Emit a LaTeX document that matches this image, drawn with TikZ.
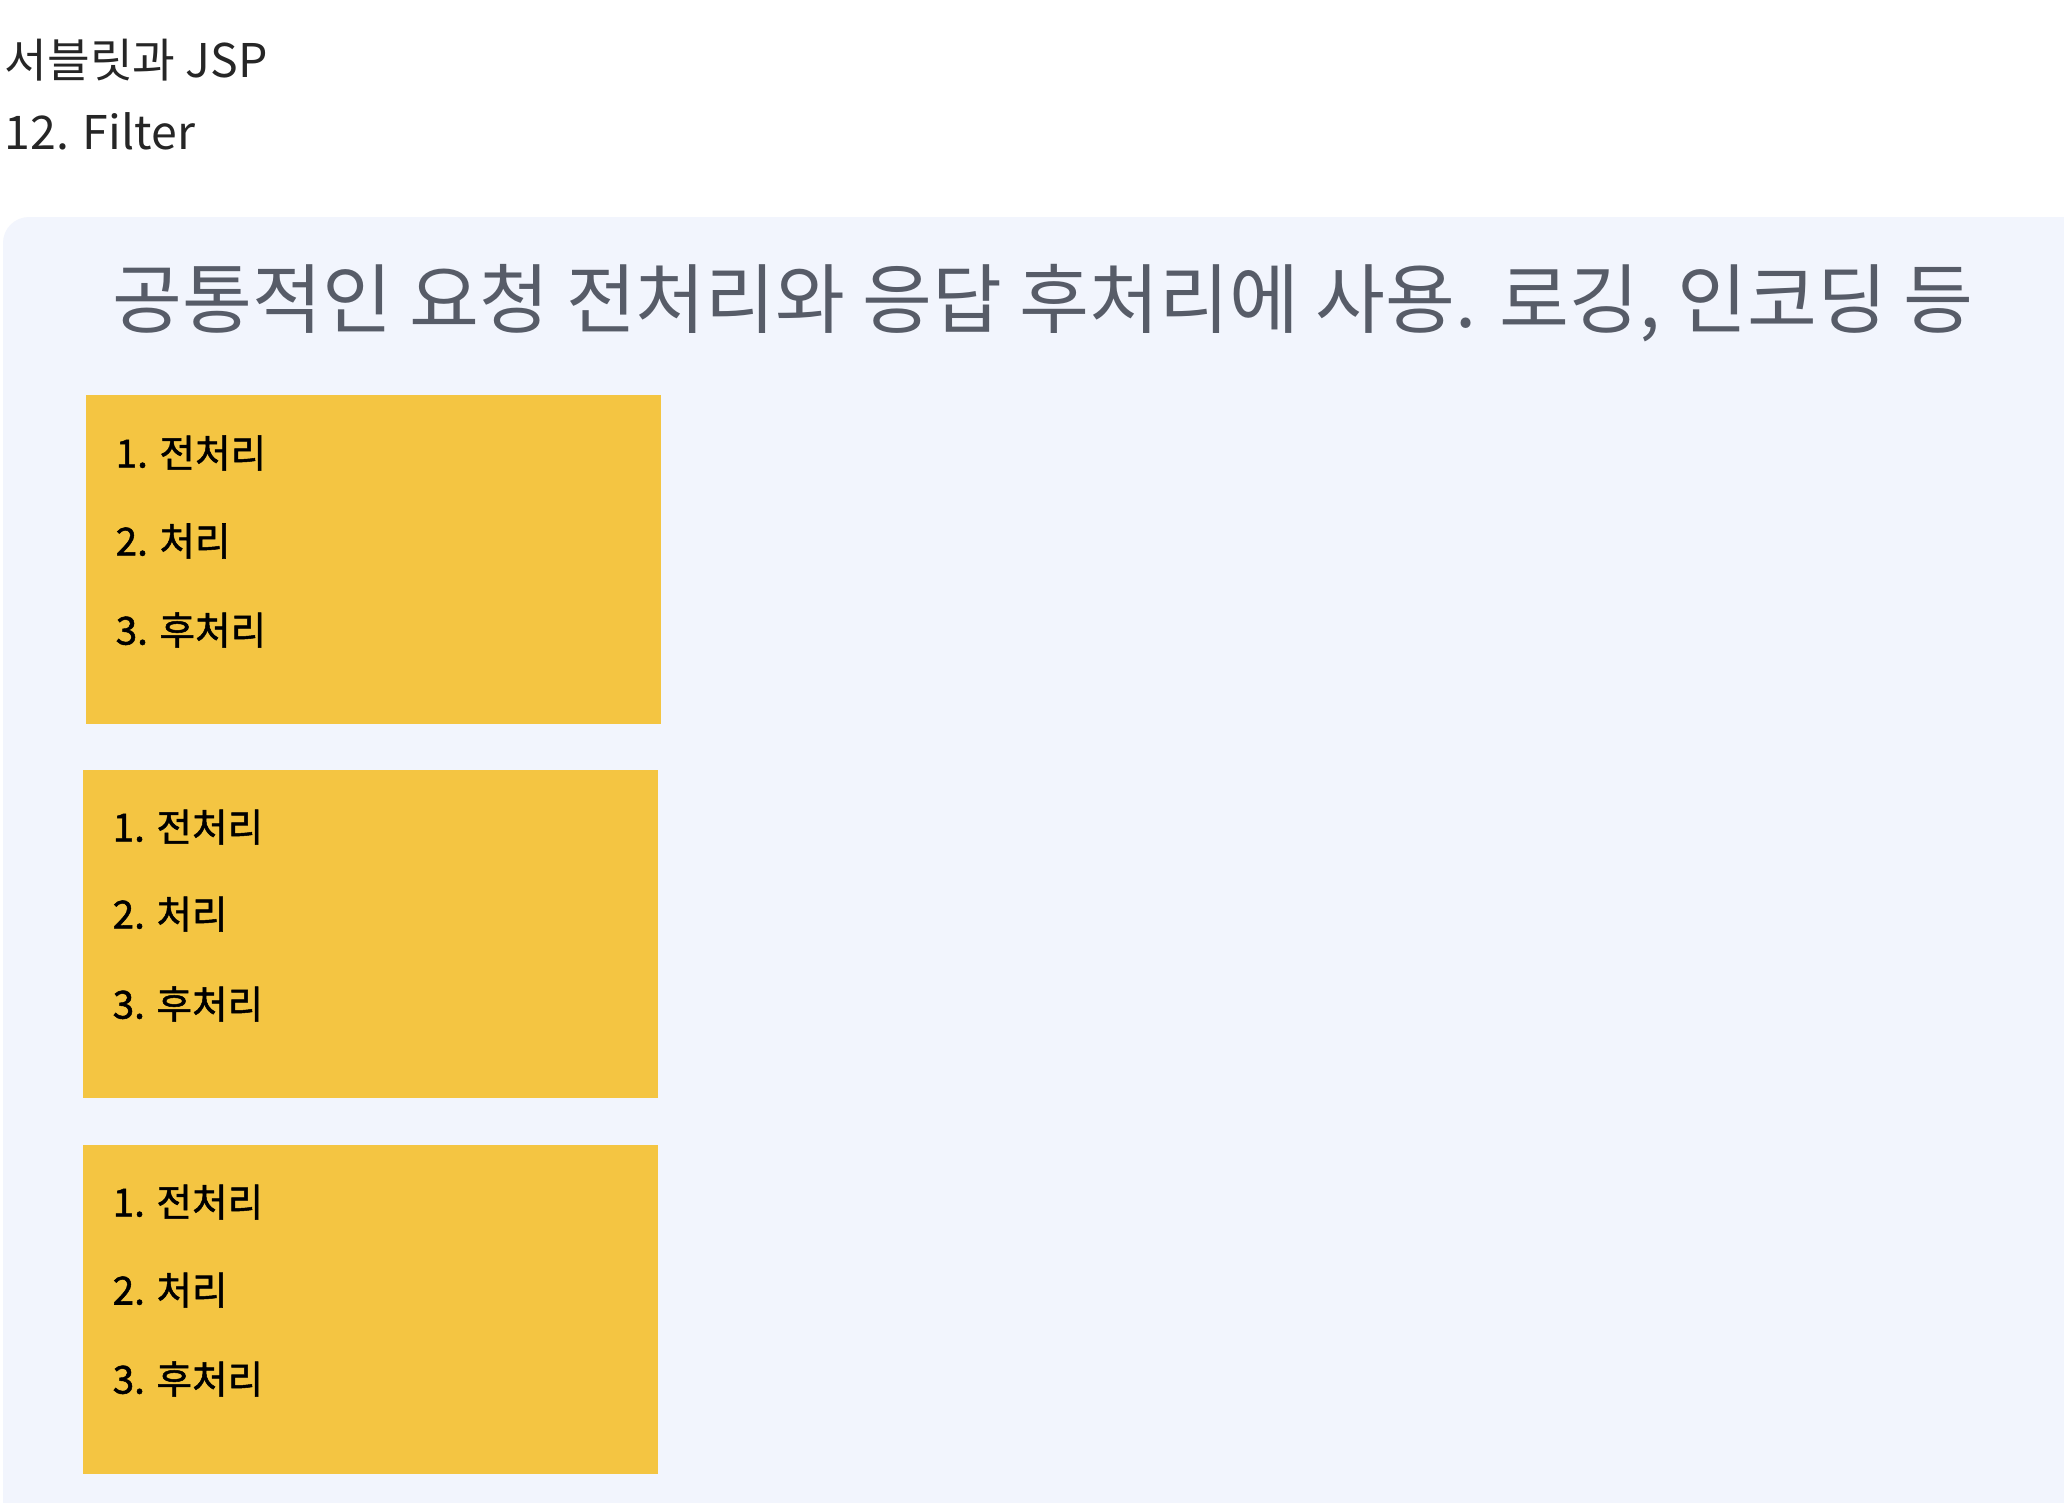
\documentclass[tikz,border=0pt]{standalone}
\usepackage{fontspec}
\setmainfont{Noto Sans CJK KR}
\newfontfamily\stepfont[FakeBold=1.3]{Noto Sans CJK KR}
\usepackage{tikz}
\definecolor{panelbg}{HTML}{F2F5FD}
\definecolor{boxfill}{HTML}{F4C542}
\definecolor{subgray}{HTML}{575C68}
\tikzset{
	heading/.style={anchor=west, inner sep=0pt, font=\fontsize{13.2pt}{16pt}\selectfont, text=black!85},
	subline/.style={anchor=west, inner sep=0pt, font=\fontsize{21.6pt}{26pt}\selectfont, text=subgray},
	stepbox/.style={fill=boxfill, draw=none},
	steptext/.style={anchor=west, inner sep=0pt, font=\stepfont\fontsize{11pt}{13pt}\selectfont, text=black}
}

\begin{document}
\begin{tikzpicture}[x=0.01cm, y=-0.01cm]
			%%%%% START %%%%%
			
			\useasboundingbox (0, 0) rectangle (2064, 1502);
			\clip (0, 0) rectangle (2064, 1502);
			\fill[white] (0, 0) rectangle (2064, 1502);
			
			\node[heading] (course) at (4, 60) {서블릿과 JSP};
			\node[heading] (chapter) at (4, 131) {12. Filter};
			
			\fill[panelbg, rounded corners=0.26cm] (3, 1600) rectangle (2200, 217);
			
			\node[subline] (summary) at (112, 303) {공통적인 요청 전처리와 응답 후처리에 사용. 로깅, 인코딩 등};
			
			\draw[stepbox] (86, 395) rectangle (661, 724);
			\node[steptext] (pre1) at (115, 453) {1. 전처리};
			\node[steptext] (proc1) at (115, 541) {2. 처리};
			\node[steptext] (post1) at (115, 630) {3. 후처리};
			
			\draw[stepbox] (83, 770) rectangle (658, 1098);
			\node[steptext] (pre2) at (112, 827) {1. 전처리};
			\node[steptext] (proc2) at (112, 914) {2. 처리};
			\node[steptext] (post2) at (112, 1004) {3. 후처리};
			
			\draw[stepbox] (83, 1145) rectangle (658, 1474);
			\node[steptext] (pre3) at (112, 1202) {1. 전처리};
			\node[steptext] (proc3) at (112, 1290) {2. 처리};
			\node[steptext] (post3) at (112, 1379) {3. 후처리};
			
			%%%%% END %%%%%
		\end{tikzpicture}
\end{document}
